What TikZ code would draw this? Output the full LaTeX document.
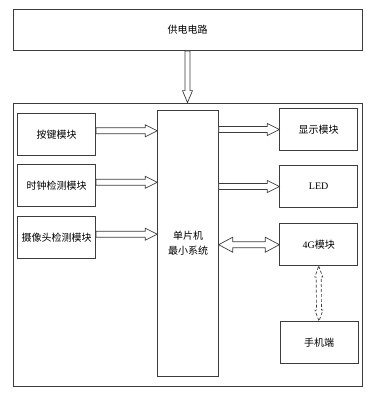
\documentclass[tikz,border=0pt]{standalone}
\usepackage{fontspec}
\setmainfont{Liberation Serif}
\newfontfamily\cjk{Noto Sans CJK SC}
\usetikzlibrary{calc}
\definecolor{edge}{HTML}{3C3C3C}
\tikzset{box/.style={draw=edge,line width=0.8pt,minimum width=78pt,minimum height=42pt,
  inner sep=0pt,align=center,font=\cjk},
  fat/.style n args={3}{draw=edge,line width=0.7pt,fill=white,to path={
    ($(\tikztostart)!#1!90:(\tikztotarget)$)
    -- ($(\tikztotarget)!#3!(\tikztostart)!#1!90:(\tikztotarget)$)
    -- ($(\tikztotarget)!#3!(\tikztostart)!#2!90:(\tikztotarget)$)
    -- (\tikztotarget)
    -- ($(\tikztotarget)!#3!(\tikztostart)!#2!-90:(\tikztotarget)$)
    -- ($(\tikztotarget)!#3!(\tikztostart)!#1!-90:(\tikztotarget)$)
    -- ($(\tikztostart)!#1!-90:(\tikztotarget)$) -- cycle}},
  fatboth/.style n args={3}{draw=edge,line width=0.7pt,fill=white,to path={
    (\tikztostart)
    -- ($(\tikztostart)!#3!(\tikztotarget)!#2!90:(\tikztotarget)$)
    -- ($(\tikztostart)!#3!(\tikztotarget)!#1!90:(\tikztotarget)$)
    -- ($(\tikztotarget)!#3!(\tikztostart)!#1!90:(\tikztotarget)$)
    -- ($(\tikztotarget)!#3!(\tikztostart)!#2!90:(\tikztotarget)$)
    -- (\tikztotarget)
    -- ($(\tikztotarget)!#3!(\tikztostart)!#2!-90:(\tikztotarget)$)
    -- ($(\tikztotarget)!#3!(\tikztostart)!#1!-90:(\tikztotarget)$)
    -- ($(\tikztostart)!#3!(\tikztotarget)!#1!-90:(\tikztotarget)$)
    -- ($(\tikztostart)!#3!(\tikztotarget)!#2!-90:(\tikztotarget)$)
    -- cycle}}}
\begin{document}
\begin{tikzpicture}[x=1pt,y=-1pt,font=\cjk]
\fill[white] (0,0) rectangle (371,399);
\node[box,minimum width=349pt,minimum height=41pt] (power) at (187.5,30){供电电路};
\node[box,minimum width=349pt,minimum height=283pt] (board) at (187.5,244.5){};
\node[box,minimum width=60.6pt,minimum height=266pt] (mcu) at (188,243){单片机\\[3pt]最小系统};
\draw[fat={2.5pt}{5pt}{12pt}] (power.south) to (board.north);
% inputs on the left
\foreach \n/\y/\lab in {key/134.3/按键模块,clock/185.8/时钟检测模块,cam/237.7/摄像头检测模块}{
  \node[box] (\n) at (56.7,\y){\lab};
  \coordinate (\n-s) at ($(\n.east)+(0,-3.5)$);
  \coordinate (\n-t) at ($(mcu.west |- \n.east)+(0,-3.5)$);
  \draw[fat={3pt}{6pt}{12pt}] (\n-s) to (\n-t);}
% outputs on the right
\node[box] (disp) at (318.7,129.5){显示模块};
\node[box,font=\rmfamily] (led) at (318.7,186.5){LED};
\node[box] (net4g) at (318.7,244.7){{\rmfamily 4G}模块};
\node[box] (phone) at (319,342.5){手机端};
\foreach \n in {disp,led}{
  \draw[fat={3pt}{6pt}{12pt}] (mcu.east |- \n.west) to (\n.west);}
\draw[fatboth={3pt}{7.5pt}{14pt}] (mcu.east |- net4g.west) to (net4g.west);
\draw[fatboth={2.5pt}{4pt}{11pt},dash pattern=on 3pt off 2pt] (net4g.south) to (phone.north);
\end{tikzpicture}
\end{document}
